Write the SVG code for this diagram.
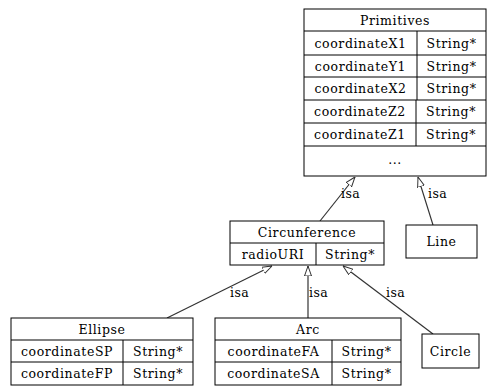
<svg xmlns="http://www.w3.org/2000/svg" width="494" height="386" viewBox="0 0 494 386">
<defs>
<style>
.b{fill:#fff;stroke:#000;stroke-width:1}
.l{stroke:#000;stroke-width:1;fill:none}
.t{font-family:"DejaVu Serif","Liberation Serif",serif;font-size:12.5px;letter-spacing:0.6px;fill:#000;text-anchor:middle;dominant-baseline:central}
.e{stroke:#333;stroke-width:1.2;fill:none;marker-end:url(#ah)}
.el{font-family:"DejaVu Serif","Liberation Serif",serif;font-size:12.5px;letter-spacing:0.4px;fill:#000}
</style>
<marker id="ah" viewBox="0 0 10 8" refX="10" refY="4" markerWidth="10" markerHeight="8" markerUnits="userSpaceOnUse" orient="auto">
<path d="M0,0.5 L10,4 L0,7.5 Z" fill="#fff" stroke="#333" stroke-width="1"/>
</marker>
</defs>
<rect width="494" height="386" fill="#fff"/>
<g id="edges">
<line class="e" x1="320" y1="221" x2="355" y2="177"/>
<text class="el" x="341" y="198">isa</text>
<line class="e" x1="433" y1="225" x2="418" y2="177"/>
<text class="el" x="428" y="198">isa</text>
<line class="e" x1="167" y1="318" x2="272" y2="266"/>
<text class="el" x="230" y="297">isa</text>
<line class="e" x1="308" y1="318" x2="308" y2="266"/>
<text class="el" x="309" y="297">isa</text>
<line class="e" x1="433" y1="334" x2="343" y2="266"/>
<text class="el" x="386" y="297">isa</text>
</g>
<g id="Primitives">
<rect class="b" x="304" y="9" width="182" height="167"/>
<path class="l" d="M304,31H486M304,55H486M304,77H486M304,100H486M304,123H486M304,146H486M417,31V100M416,100V146"/>
<text class="t" x="395" y="20">Primitives</text>
<text class="t" x="360.5" y="43">coordinateX1</text>
<text class="t" x="451.5" y="43">String*</text>
<text class="t" x="360.5" y="66">coordinateY1</text>
<text class="t" x="451.5" y="66">String*</text>
<text class="t" x="360.5" y="88.5">coordinateX2</text>
<text class="t" x="451.5" y="88.5">String*</text>
<text class="t" x="360" y="111.5">coordinateZ2</text>
<text class="t" x="451" y="111.5">String*</text>
<text class="t" x="360" y="134.5">coordinateZ1</text>
<text class="t" x="451" y="134.5">String*</text>
<text class="t" x="395" y="159">...</text>
</g>
<g id="Circumference">
<rect class="b" x="230" y="221" width="154" height="44"/>
<path class="l" d="M230,243H384M316,243V265"/>
<text class="t" x="307" y="232">Circunference</text>
<text class="t" x="273" y="254">radioURI</text>
<text class="t" x="350" y="254">String*</text>
</g>
<g id="Line">
<rect class="b" x="406" y="225" width="71" height="33"/>
<text class="t" x="441.5" y="241.5">Line</text>
</g>
<g id="Ellipse">
<rect class="b" x="11" y="318" width="182" height="67"/>
<path class="l" d="M11,340H193M11,362H193M123,340V385"/>
<text class="t" x="102" y="329">Ellipse</text>
<text class="t" x="67" y="351">coordinateSP</text>
<text class="t" x="158" y="351">String*</text>
<text class="t" x="67" y="373.5">coordinateFP</text>
<text class="t" x="158" y="373.5">String*</text>
</g>
<g id="Arc">
<rect class="b" x="215" y="318" width="186" height="67"/>
<path class="l" d="M215,340H401M215,362H401M332,340V385"/>
<text class="t" x="308" y="329">Arc</text>
<text class="t" x="273.5" y="351">coordinateFA</text>
<text class="t" x="366.5" y="351">String*</text>
<text class="t" x="273.5" y="373.5">coordinateSA</text>
<text class="t" x="366.5" y="373.5">String*</text>
</g>
<g id="Circle">
<rect class="b" x="422" y="334" width="57" height="34"/>
<text class="t" x="450.5" y="351">Circle</text>
</g>
</svg>
